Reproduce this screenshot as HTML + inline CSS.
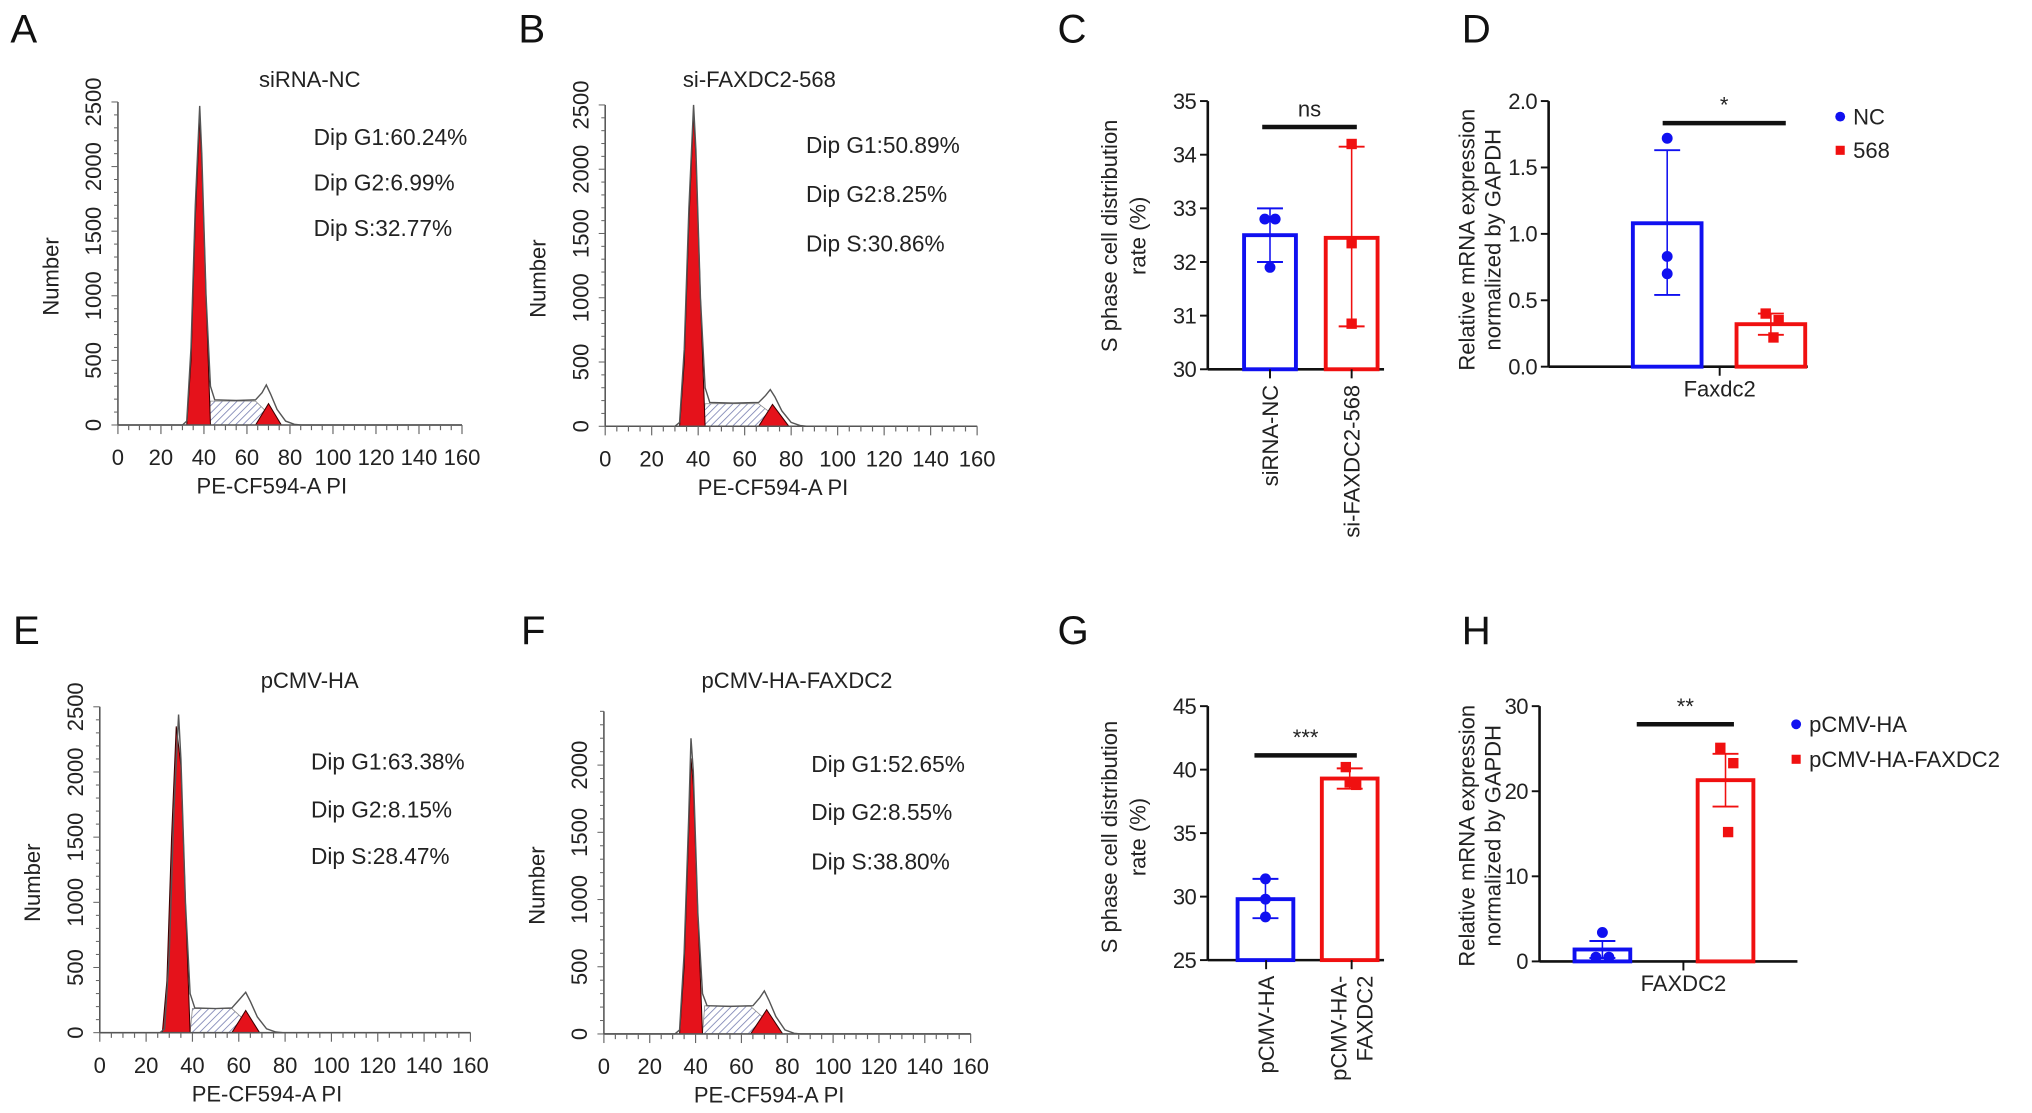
<!DOCTYPE html>
<html><head><meta charset="utf-8"><style>
html,body{margin:0;padding:0;background:#fff;}
svg{display:block;font-family:"Liberation Sans",Arial,sans-serif;}
</style></head><body>
<svg id="fig" width="2032" height="1113" viewBox="0 0 1568 859" preserveAspectRatio="none" xmlns="http://www.w3.org/2000/svg">
<defs>
<pattern id="hatch" patternUnits="userSpaceOnUse" width="4" height="4" patternTransform="rotate(45)">
<rect width="4" height="4" fill="#fff"/><line x1="0" y1="0" x2="0" y2="4" stroke="#7f86b5" stroke-width="1.3"/>
</pattern>
</defs>
</svg>
<script>
// ---- histogram data (x = PI channel value, y = count) ----
const histTotalA=[[0,0],[30,0],[32,30],[34,600],[36,1700],[38,2470],[39,2100],[41,1000],[43,300],[45,195],[55,190],[64,195],[67,250],[69,310],[71,240],[74,120],[78,30],[82,5],[85,0],[160,0]];
const histG1A=[[32,0],[34,500],[36,1600],[38,2380],[39,2050],[41,1000],[43,0]];
const histG2A=[[64,0],[70,165],[76,0]];
const histSA=[[42,0],[43,185],[64,185],[68,120],[70,0]];

const histTotalB=[[0,0],[30,0],[32,30],[34,600],[36,1700],[38,2500],[39,2150],[41,1000],[43,300],[45,185],[55,180],[66,185],[69,240],[71,285],[73,230],[76,120],[80,30],[84,5],[87,0],[160,0]];
const histG1B=[[32,0],[34,500],[36,1600],[38,2450],[39,2100],[41,1000],[43,0]];
const histG2B=[[66,0],[72,170],[79,0]];
const histSB=[[42,0],[43,175],[66,175],[70,120],[72,0]];

const histTotalE=[[0,0],[26,0],[28,30],[30,600],[32,1700],[34,2440],[35,2100],[37,1000],[39,300],[41,190],[50,185],[57,190],[60,250],[63,310],[65,240],[68,120],[72,30],[76,5],[79,0],[160,0]];
const histG1E=[[27,0],[29,400],[31,1500],[33,2350],[35,2050],[37,1000],[39,0]];
const histG2E=[[57,0],[63,170],[69,0]];
const histSE=[[39,0],[40,185],[57,185],[61,120],[63,0]];

const histTotalF=[[0,0],[31,0],[33,30],[35,600],[37,1600],[38,2200],[39,1950],[41,900],[43,300],[45,210],[55,205],[65,210],[68,270],[70,320],[72,250],[75,130],[79,30],[83,5],[86,0],[160,0]];
const histG1F=[[33,0],[35,500],[37,1500],[38,2050],[39,1850],[41,900],[43,0]];
const histG2F=[[64,0],[71,180],[78,0]];
const histSF=[[43,0],[44,210],[64,205],[69,130],[71,0]];

const xTickLabels=[0,20,40,60,80,100,120,140,160];

// ---- bar chart data ----
const cCats=["siRNA-NC","si-FAXDC2-568"];
const cMeans=[32.5,32.45];
const cErrLo=[32.0,30.8];
const cErrHi=[33.0,34.15];
const cPtsNC=[32.8,32.8,31.9];
const cPts568=[34.2,32.35,30.85];
const cTicks=[30,31,32,33,34,35];

const dCats=["Faxdc2"];
const dMeans=[1.08,0.32];
const dErrLo=[0.54,0.24];
const dErrHi=[1.63,0.40];
const dPtsNC=[1.72,0.83,0.70];
const dPts568=[0.40,0.35,0.22];
const dTicks=[0.0,0.5,1.0,1.5,2.0];

const gCats=["pCMV-HA","pCMV-HA-|FAXDC2"];
const gMeans=[29.8,39.3];
const gErrLo=[28.3,38.5];
const gErrHi=[31.4,40.1];
const gPtsHA=[31.4,29.8,28.4];
const gPtsFAX=[40.2,39.0,38.8];
const gTicks=[25,30,35,40,45];

const hCats=["FAXDC2"];
const hMeans=[1.4,21.3];
const hErrLo=[0.4,18.2];
const hErrHi=[2.4,24.4];
const hPtsHA=[3.4,0.5,0.5];
const hPtsFAX=[25.1,23.3,15.2];
const hTicks=[0,10,20,30];

const NS="http://www.w3.org/2000/svg";
const svg=document.getElementById('fig');
function el(tag,attrs,parent,txt){const e=document.createElementNS(NS,tag);for(const k in attrs)e.setAttribute(k,attrs[k]);if(txt!==undefined)e.textContent=txt;(parent||svg).appendChild(e);return e;}

function panelLetter(t,x,y){
  const e=el('text',{x:x,y:y,'font-size':31,fill:'#111'},svg,t);
  
  
}

function hist(c){
  const g=el('g',{});
  
  
  const xs=v=>c.x0+v/160*(c.x1-c.x0);
  const ys=v=>c.y0-v/c.ymax*(c.y0-c.yTop);
  const pts=a=>a.map(p=>xs(p[0]).toFixed(1)+','+ys(p[1]).toFixed(1)).join(' ');
  const s=el('polygon',{points:pts(c.s),fill:'url(#hatch)',stroke:'#888','stroke-width':0.6},g);
  
  
  const g1=el('polygon',{points:pts(c.g1),fill:'#e5121b',stroke:'#3a0000','stroke-width':0.8},g);
  
  
  const g2=el('polygon',{points:pts(c.g2),fill:'#e5121b',stroke:'#3a0000','stroke-width':0.8},g);
  
  
  const t=el('polyline',{points:pts(c.total),fill:'none',stroke:'#555','stroke-width':1.1},g);
  
  
  el('line',{x1:c.x0,y1:c.y0,x2:c.x0,y2:c.yTop,stroke:'#555','stroke-width':1.2},g);
  el('line',{x1:c.x0,y1:c.y0,x2:c.x1,y2:c.y0,stroke:'#555','stroke-width':1.2},g);
  for(let v=0;v<=c.ymax;v+=100){const y=ys(v);el('line',{x1:c.x0-(v%500===0?5:3),y1:y,x2:c.x0,y2:y,stroke:'#666','stroke-width':0.8},g);}
  c.yLabels.forEach(v=>{const y=ys(v);const tx=el('text',{x:c.x0-13,y:y,'font-size':17,'text-anchor':'middle',fill:'#222',transform:`rotate(-90 ${c.x0-13} ${y})`},g,String(v));
    
    });
  for(let v=0;v<=160;v+=5){const x=xs(v);el('line',{x1:x,y1:c.y0,x2:x,y2:c.y0+(v%20===0?7:4),stroke:'#666','stroke-width':0.9},g);}
  xTickLabels.forEach(v=>{const tx=el('text',{x:xs(v),y:c.y0+31,'font-size':17,'text-anchor':'middle',fill:'#222'},g,String(v));
    
    });
  const xt=el('text',{x:(c.x0+c.x1)/2-14,y:c.y0+53,'font-size':17,'text-anchor':'middle',fill:'#222'},g,'PE-CF594-A PI');
  
  
  const ym=(c.y0+c.yTop)/2+10;
  const yt=el('text',{x:c.x0-46,y:ym,'font-size':17,'text-anchor':'middle',fill:'#222',transform:`rotate(-90 ${c.x0-46} ${ym})`},g,'Number');
  
  
  const ti=el('text',{x:c.tx,y:c.ty+6,'font-size':17,'text-anchor':'middle',fill:'#222'},g,c.title);
  
  
  c.dip.forEach((d,i)=>{const tx=el('text',{x:c.dipx,y:c.dipy[i]+6,'font-size':17.5,fill:'#222'},g,d);
    
    });
}

hist({id:'a',x0:91,x1:356.5,y0:328,yTop:78.7,ymax:2500,yLabels:[0,500,1000,1500,2000,2500],total:histTotalA,g1:histG1A,g2:histG2A,s:histSA,title:'siRNA-NC',tx:239,ty:61,dip:['Dip G1:60.24%','Dip G2:6.99%','Dip S:32.77%'],dipx:242,dipy:[106,141,176]});
hist({id:'b',x0:467,x1:754,y0:329,yTop:81,ymax:2500,yLabels:[0,500,1000,1500,2000,2500],total:histTotalB,g1:histG1B,g2:histG2B,s:histSB,title:'si-FAXDC2-568',tx:586,ty:61,dip:['Dip G1:50.89%','Dip G2:8.25%','Dip S:30.86%'],dipx:622,dipy:[112,150,188]});
hist({id:'e',x0:77,x1:363,y0:797,yTop:545.5,ymax:2500,yLabels:[0,500,1000,1500,2000,2500],total:histTotalE,g1:histG1E,g2:histG2E,s:histSE,title:'pCMV-HA',tx:239,ty:525,dip:['Dip G1:63.38%','Dip G2:8.15%','Dip S:28.47%'],dipx:240,dipy:[588,625,661]});
hist({id:'f',x0:466,x1:749,y0:798,yTop:549,ymax:2400,yLabels:[0,500,1000,1500,2000],total:histTotalF,g1:histG1F,g2:histG2F,s:histSF,title:'pCMV-HA-FAXDC2',tx:615,ty:525,dip:['Dip G1:52.65%','Dip G2:8.55%','Dip S:38.80%'],dipx:626,dipy:[590,627,665]});

function bars(c){
  const g=el('g',{});
  
  
  const ys=v=>c.yBot-(v-c.vmin)/(c.vmax-c.vmin)*(c.yBot-c.yTop);
  el('line',{x1:c.ax,y1:c.yBot,x2:c.ax,y2:c.yTop,stroke:'#111','stroke-width':2},g);
  el('line',{x1:c.ax,y1:c.yBot,x2:c.xEnd,y2:c.yBot,stroke:'#111','stroke-width':2},g);
  c.ticks.forEach(v=>{const y=ys(v);el('line',{x1:c.ax-6,y1:y,x2:c.ax,y2:y,stroke:'#111','stroke-width':1.5},g);
    const tx=el('text',{x:c.ax-9,y:y+6,'font-size':17,'text-anchor':'end',fill:'#222','letter-spacing':'-0.5'},g,c.fmt(v));
    
    });
  c.means.forEach((m,i)=>{
    const col=c.colors[i];const x1=c.bx[i],x2=x1+c.bw,cx=(x1+x2)/2;
    const r=el('rect',{x:x1,y:ys(m),width:c.bw,height:c.yBot-ys(m),fill:'none',stroke:col,'stroke-width':3},g);
    
    
    el('line',{x1:cx,y1:ys(c.lo[i]),x2:cx,y2:ys(c.hi[i]),stroke:col,'stroke-width':1.2},g);
    [c.lo[i],c.hi[i]].forEach(v=>el('line',{x1:cx-10,y1:ys(v),x2:cx+10,y2:ys(v),stroke:col,'stroke-width':1.5},g));
    c.pts[i].forEach((v,j)=>{const px=cx+c.jit[i][j];
      let p;
      if(i===0)p=el('circle',{cx:px,cy:ys(v),r:4.2,fill:col},g);
      else p=el('rect',{x:px-4,y:ys(v)-4,width:8,height:8,fill:col},g);
      
      });
  });
  c.catX.forEach((x,i)=>el('line',{x1:x,y1:c.yBot,x2:x,y2:c.yBot+7,stroke:'#111','stroke-width':1.5},g));
  c.cats.forEach((t,i)=>{
    if(c.rotate){
      const lines=t.split('|');
      lines.forEach((ln,k)=>{const x=c.catX[i]+6+(k-(lines.length-1)/2)*20;const y=c.yBot+12;
        const tx=el('text',{x:x,y:y,'font-size':17,'text-anchor':'end',fill:'#222',transform:`rotate(-90 ${x} ${y})`},g,ln);
        
        });
    } else {
      const tx=el('text',{x:c.catX[i],y:c.yBot+23,'font-size':17,'text-anchor':'middle',fill:'#222'},g,t);
      
      
    }
  });
  const sb=el('line',{x1:c.sig[0],y1:c.sig[2],x2:c.sig[1],y2:c.sig[2],stroke:'#111','stroke-width':3.5},g);
  
  
  const st=el('text',{x:(c.sig[0]+c.sig[1])/2,y:c.sig[2]-8,'font-size':17,'text-anchor':'middle',fill:'#222'},g,c.sigText);
  
  
  c.titles.forEach((t,k)=>{const x=c.tx[k],y=c.tcy;
    const tx=el('text',{x:x,y:y,'font-size':17,'text-anchor':'middle',fill:'#222',transform:`rotate(-90 ${x} ${y})`},g,t);
    
    });
  if(c.legend){c.legend.forEach((L,k)=>{const y=c.legY[k];
    let m;
    if(k===0)m=el('circle',{cx:c.legX,cy:y,r:3.8,fill:L[1]},g);
    else m=el('rect',{x:c.legX-3.5,y:y-3.5,width:7,height:7,fill:L[1]},g);
    
    
    const tx=el('text',{x:c.legX+10,y:y+6,'font-size':17,fill:'#222'},g,L[0]);
    
    });}
}
const fmt0=v=>String(v), fmt1=v=>v.toFixed(1);
bars({id:'c',ax:932,yTop:78,yBot:285,vmin:30,vmax:35,ticks:cTicks,fmt:fmt0,xEnd:1068,means:cMeans,lo:cErrLo,hi:cErrHi,pts:[cPtsNC,cPts568],jit:[[-4,4,0],[0,0,0]],colors:['#1010f0','#f01010'],bx:[960,1023],bw:40,catX:[980,1043],cats:cCats,rotate:true,sig:[974,1047,98],sigText:'ns',titles:['S phase cell distribution','rate (%)'],tx:[862,884],tcy:182});
bars({id:'d',ax:1195,yTop:78,yBot:283,vmin:0,vmax:2,ticks:dTicks,fmt:fmt1,xEnd:1395,means:dMeans,lo:dErrLo,hi:dErrHi,pts:[dPtsNC,dPts568],jit:[[0,0,0],[-4,6,2]],colors:['#1010f0','#f01010'],bx:[1260,1340],bw:53,catX:[1327],cats:dCats,rotate:false,sig:[1283,1378,95],sigText:'*',titles:['Relative mRNA expression','normalized by GAPDH'],tx:[1138,1158],tcy:185,legend:[['NC','#1010f0'],['568','#f01010']],legX:1420,legY:[90,116]});
bars({id:'g',ax:932,yTop:545,yBot:741,vmin:25,vmax:45,ticks:gTicks,fmt:fmt0,xEnd:1068,means:gMeans,lo:gErrLo,hi:gErrHi,pts:[gPtsHA,gPtsFAX],jit:[[0,0,0],[-3,0,5]],colors:['#1010f0','#f01010'],bx:[955,1020],bw:43,catX:[977,1043],cats:gCats,rotate:true,sig:[968,1047,583],sigText:'***',titles:['S phase cell distribution','rate (%)'],tx:[862,884],tcy:646});
bars({id:'h',ax:1188,yTop:545,yBot:742,vmin:0,vmax:30,ticks:hTicks,fmt:fmt0,xEnd:1387,means:hMeans,lo:hErrLo,hi:hErrHi,pts:[hPtsHA,hPtsFAX],jit:[[0,-5,5],[-4,6,2]],colors:['#1010f0','#f01010'],bx:[1215,1310],bw:43,catX:[1299],cats:hCats,rotate:false,sig:[1263,1338,559],sigText:'**',titles:['Relative mRNA expression','normalized by GAPDH'],tx:[1138,1158],tcy:645,legend:[['pCMV-HA','#1010f0'],['pCMV-HA-FAXDC2','#f01010']],legX:1386,legY:[559,586]});

panelLetter('A',8,33);panelLetter('B',400,33);panelLetter('C',816,33);panelLetter('D',1128,33);
panelLetter('E',10,497);panelLetter('F',402,497);panelLetter('G',816,497);panelLetter('H',1128,497);
</script>
</body></html>
